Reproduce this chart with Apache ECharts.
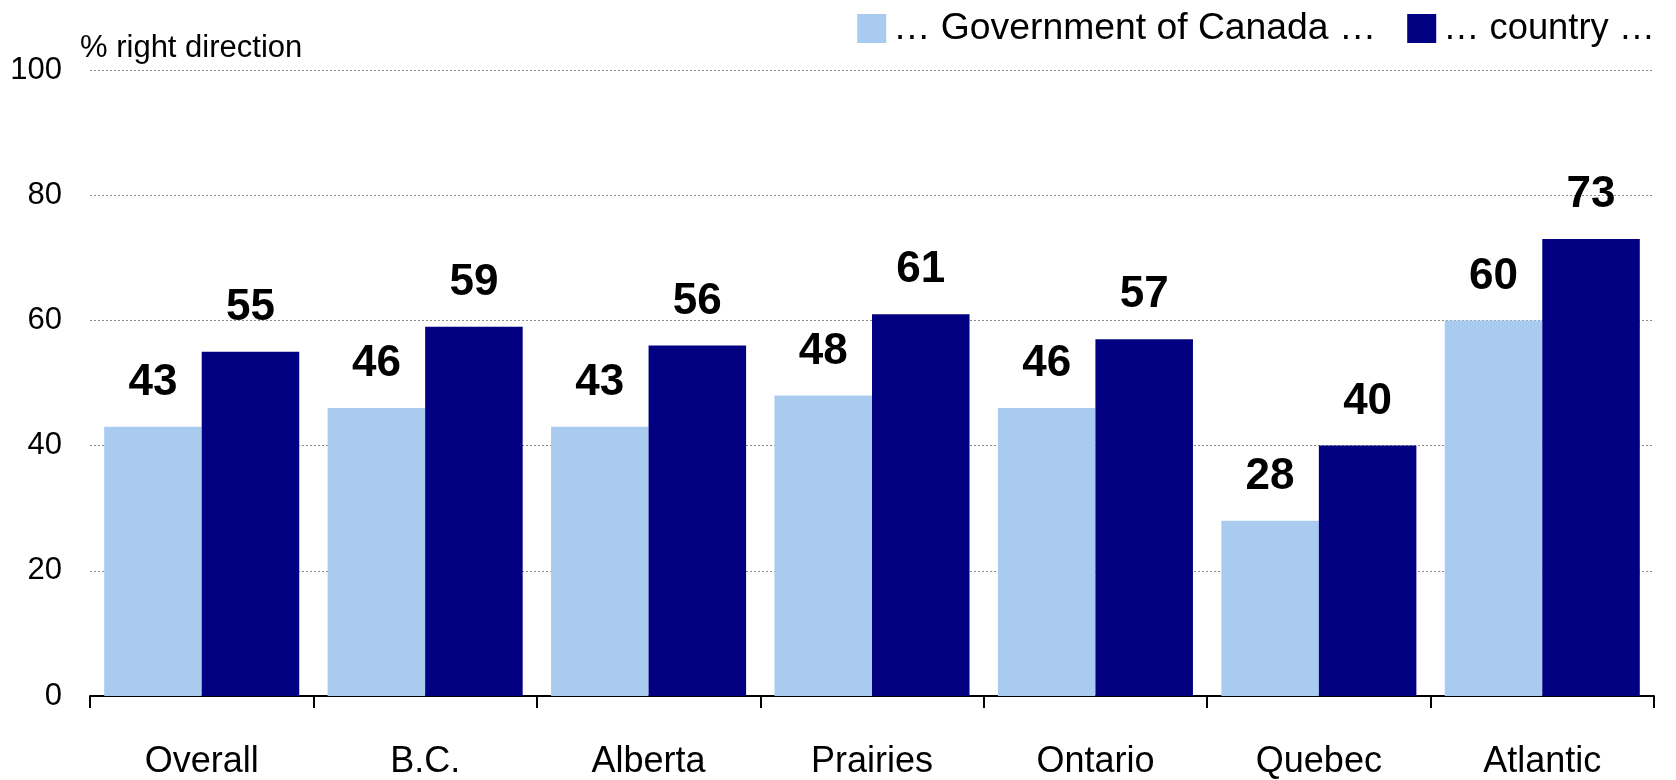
<!DOCTYPE html>
<html>
<head>
<meta charset="utf-8">
<script src="https://cdn.jsdelivr.net/npm/echarts@6/dist/echarts.min.js"></script>
<style>
  html, body { margin: 0; padding: 0; background: #fff; }
  #chart { width: 1676px; height: 780px; }
</style>
</head>
<body>
<div id="chart"></div>
<script>
const categories = ['Overall', 'B.C.', 'Alberta', 'Prairies', 'Ontario', 'Quebec', 'Atlantic'];
const govValues = [43, 46, 43, 48, 46, 28, 60];
const countryValues = [55, 59, 56, 61, 57, 40, 73];
const seriesNames = ['\u2026 Government of Canada \u2026', '\u2026 country \u2026'];
const yTitle = '% right direction';

const FONT = 'Arial, "Liberation Sans", Helvetica, sans-serif';
const chart = echarts.init(document.getElementById('chart'), null, { renderer: 'canvas' });

const labelStyle = {
  show: true,
  position: 'top',
  distance: 22,
  color: '#000',
  fontFamily: FONT,
  fontWeight: 'bold',
  fontSize: 44
};

chart.setOption({
  animation: false,
  backgroundColor: '#fff',
  title: {
    text: yTitle,
    left: 80,
    top: 33,
    padding: 0,
    textStyle: { fontFamily: FONT, fontSize: 31, fontWeight: 'normal', color: '#000' }
  },
  legend: {
    right: 21,
    top: 10,
    padding: 0,
    itemWidth: 29,
    itemHeight: 29,
    itemGap: 31,
    icon: 'rect',
    textStyle: { fontFamily: FONT, fontSize: 36, color: '#000', padding: [0, 0, 0, 2] },
    data: [
      { name: seriesNames[0], textStyle: { fontSize: 37.3 } },
      { name: seriesNames[1], textStyle: { fontSize: 36.3 } }
    ]
  },
  grid: { left: 90, right: 22, top: 70, bottom: 84, containLabel: false },
  xAxis: {
    type: 'category',
    data: categories,
    boundaryGap: true,
    axisLine: { show: true, lineStyle: { color: '#000', width: 2 } },
    axisTick: { show: true, length: 12, lineStyle: { color: '#000', width: 2 } },
    axisLabel: { margin: 48, fontFamily: FONT, fontSize: 36, color: '#000' }
  },
  yAxis: {
    type: 'value',
    min: 0,
    max: 100,
    interval: 20,
    axisLine: { show: false },
    axisTick: { show: false },
    axisLabel: { margin: 28, fontFamily: FONT, fontSize: 31, color: '#000' },
    splitLine: { show: true, lineStyle: { color: '#888', width: 1, type: [2, 2] } }
  },
  series: [
    {
      name: seriesNames[0],
      type: 'bar',
      data: govValues,
      barGap: '0%',
      barCategoryGap: '12.7%',
      itemStyle: { color: '#A9CBF0' },
      label: labelStyle
    },
    {
      name: seriesNames[1],
      type: 'bar',
      data: countryValues,
      barGap: '0%',
      barCategoryGap: '12.7%',
      itemStyle: { color: '#000080' },
      label: labelStyle
    }
  ]
});
</script>
</body>
</html>
